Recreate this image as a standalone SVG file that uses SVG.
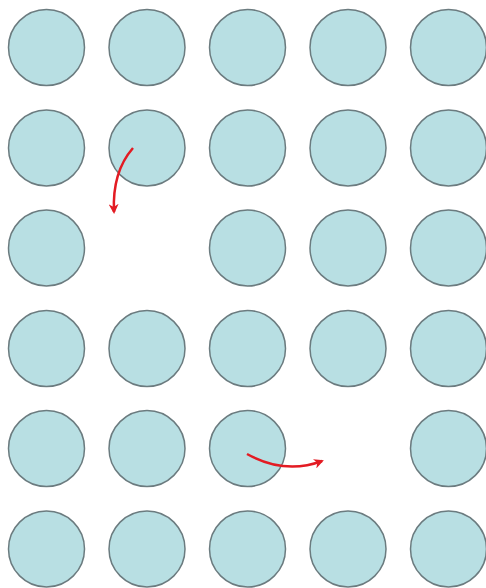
<svg xmlns="http://www.w3.org/2000/svg" width="486" height="588" viewBox="0 0 486 588">
<style>
.c{fill:#b8dfe3;stroke:#6b7b7f;stroke-width:1.5}
.a{fill:none;stroke:#e31b23;stroke-width:2.5}
</style>
<defs>
<marker id="ah" viewBox="0 0 10 10" refX="8" refY="5" markerWidth="4" markerHeight="4" orient="auto" markerUnits="strokeWidth">
<path d="M0,0 L10,5 L0,10 L3,5 z" fill="#e31b23"/>
</marker>
</defs>
<rect width="486" height="588" fill="#fff"/>
<g id="r1">
<circle id="n11" class="c" cx="46.5" cy="47.5" r="38"/>
<circle id="n12" class="c" cx="147" cy="47.5" r="38"/>
<circle id="n13" class="c" cx="247.5" cy="47.5" r="38"/>
<circle id="n14" class="c" cx="348" cy="47.5" r="38"/>
<circle id="n15" class="c" cx="448.5" cy="47.5" r="38"/>
</g>
<g id="r2">
<circle id="n21" class="c" cx="46.5" cy="148" r="38"/>
<circle id="n22" class="c" cx="147" cy="148" r="38"/>
<circle id="n23" class="c" cx="247.5" cy="148" r="38"/>
<circle id="n24" class="c" cx="348" cy="148" r="38"/>
<circle id="n25" class="c" cx="448.5" cy="148" r="38"/>
</g>
<g id="r3">
<circle id="n31" class="c" cx="46.5" cy="248" r="38"/>
<circle id="n33" class="c" cx="247.5" cy="248" r="38"/>
<circle id="n34" class="c" cx="348" cy="248" r="38"/>
<circle id="n35" class="c" cx="448.5" cy="248" r="38"/>
</g>
<g id="r4">
<circle id="n41" class="c" cx="46.5" cy="348.5" r="38"/>
<circle id="n42" class="c" cx="147" cy="348.5" r="38"/>
<circle id="n43" class="c" cx="247.5" cy="348.5" r="38"/>
<circle id="n44" class="c" cx="348" cy="348.5" r="38"/>
<circle id="n45" class="c" cx="448.5" cy="348.5" r="38"/>
</g>
<g id="r5">
<circle id="n51" class="c" cx="46.5" cy="448.5" r="38"/>
<circle id="n52" class="c" cx="147" cy="448.5" r="38"/>
<circle id="n53" class="c" cx="247.5" cy="448.5" r="38"/>
<circle id="n55" class="c" cx="448.5" cy="448.5" r="38"/>
</g>
<g id="r6">
<circle id="n61" class="c" cx="46.5" cy="549" r="38"/>
<circle id="n62" class="c" cx="147" cy="549" r="38"/>
<circle id="n63" class="c" cx="247.5" cy="549" r="38"/>
<circle id="n64" class="c" cx="348" cy="549" r="38"/>
<circle id="n65" class="c" cx="448.5" cy="549" r="38"/>
</g>
<g id="connectors">
<path class="a" d="M133,148 Q112,172 114,212" marker-end="url(#ah)"/>
<path class="a" d="M247,454 Q285,475 322,461" marker-end="url(#ah)"/>
</g>
</svg>
